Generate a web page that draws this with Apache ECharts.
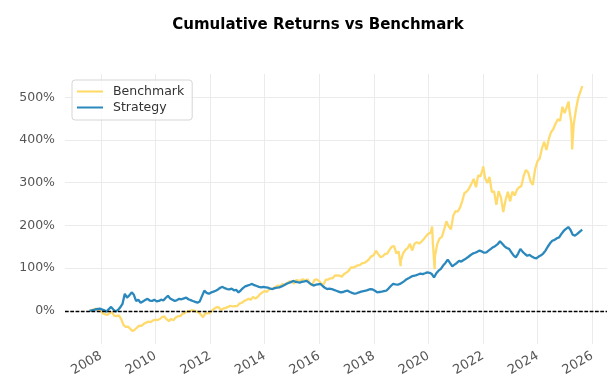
<!DOCTYPE html>
<html><head><meta charset="utf-8">
<script src="https://cdn.jsdelivr.net/npm/echarts@6/dist/echarts.min.js"></script>
<style>html,body{margin:0;padding:0;background:#fff}#c{width:611px;height:389px}</style>
</head><body><div id="c"></div>
<script>
// ---- data (cumulative return, %) ----
const benchDates = [
'2007-08-01','2007-08-28','2007-09-28','2007-10-28','2007-11-28','2007-12-28',
'2008-01-28','2008-02-28','2008-03-28','2008-04-28','2008-05-28','2008-06-28','2008-07-28','2008-08-28','2008-09-28','2008-10-28','2008-11-28','2008-12-28',
'2009-01-28','2009-02-28','2009-03-09','2009-03-28','2009-04-28','2009-05-28','2009-06-28','2009-07-28','2009-08-28','2009-09-28','2009-10-28','2009-11-28','2009-12-28',
'2010-01-28','2010-02-28','2010-03-28','2010-04-28','2010-05-28','2010-06-28','2010-07-28','2010-08-28','2010-09-28','2010-10-28','2010-11-28','2010-12-28',
'2011-01-28','2011-02-28','2011-03-28','2011-04-28','2011-05-28','2011-06-28','2011-07-28','2011-08-28','2011-09-28','2011-10-28','2011-11-28','2011-12-28',
'2012-01-28','2012-02-28','2012-03-28','2012-04-28','2012-05-28','2012-06-28','2012-07-28','2012-08-28','2012-09-28','2012-10-28','2012-11-28','2012-12-28',
'2013-01-28','2013-02-28','2013-03-28','2013-04-28','2013-05-28','2013-06-28','2013-07-28','2013-08-28','2013-09-28','2013-10-28','2013-11-28','2013-12-28',
'2014-01-28','2014-02-28','2014-03-28','2014-04-28','2014-05-28','2014-06-28','2014-07-28','2014-08-28','2014-09-28','2014-10-28','2014-11-28','2014-12-28',
'2015-01-28','2015-02-28','2015-03-28','2015-04-28','2015-05-28','2015-06-28','2015-07-28','2015-08-28','2015-09-28','2015-10-28','2015-11-28','2015-12-28',
'2016-01-28','2016-02-28','2016-03-28','2016-04-28','2016-05-28','2016-06-28','2016-07-28','2016-08-28','2016-09-28','2016-10-28','2016-11-28','2016-12-28',
'2017-01-28','2017-02-28','2017-03-28','2017-04-28','2017-05-28','2017-06-28','2017-07-28','2017-08-28','2017-09-28','2017-10-28','2017-11-28','2017-12-28',
'2018-01-28','2018-02-28','2018-03-28','2018-04-28','2018-05-28','2018-06-28','2018-07-28','2018-08-28','2018-09-28','2018-10-28','2018-11-28','2018-12-24','2018-12-28',
'2019-01-28','2019-02-28','2019-03-28','2019-04-28','2019-05-28','2019-06-28','2019-07-28','2019-08-28','2019-09-28','2019-10-28','2019-11-28','2019-12-28',
'2020-01-28','2020-02-19','2020-02-28','2020-03-23','2020-03-28','2020-04-28','2020-05-28','2020-06-28','2020-07-28','2020-08-28','2020-09-28','2020-10-28','2020-11-28','2020-12-28',
'2021-01-28','2021-02-28','2021-03-28','2021-04-28','2021-05-28','2021-06-28','2021-07-28','2021-08-28','2021-09-28','2021-10-28','2021-11-28','2021-12-28',
'2022-01-03','2022-01-28','2022-02-28','2022-03-28','2022-04-28','2022-05-28','2022-06-28','2022-07-28','2022-08-28','2022-09-28','2022-10-12','2022-10-28','2022-11-28','2022-12-28',
'2023-01-28','2023-02-28','2023-03-28','2023-04-28','2023-05-28','2023-06-28','2023-07-28','2023-08-28','2023-09-28','2023-10-28','2023-11-28','2023-12-28',
'2024-01-28','2024-02-28','2024-03-28','2024-04-28','2024-05-28','2024-06-28','2024-07-28','2024-08-28','2024-09-28','2024-10-28','2024-11-28','2024-12-28',
'2025-01-28','2025-02-19','2025-02-28','2025-03-28','2025-04-08','2025-04-28','2025-05-28','2025-06-28','2025-07-28','2025-08-20'
];
const benchValues = [
0,1,3.6,5.1,1.3,-0.3,
-6.2,-8.4,-9.6,-5.1,-3.5,-11.8,-12.5,-11.0,-19.7,-32.9,-37.6,-37.2,
-42.3,-47.5,-49.0,-44.4,-39.1,-35.1,-35.4,-30.5,-27.8,-25.5,-26.8,-22.2,-21.0,
-21.7,-19.2,-14.6,-13.2,-19.8,-24.3,-18.9,-22.3,-15.9,-12.6,-12.4,-7.0,
-4.8,-1.4,-1.6,1.4,0.3,-1.5,-3.4,-8.6,-14.9,-5.8,-6.0,-5.4,
1.1,5.4,8.4,7.9,1.8,5.4,6.8,9.2,11.8,10.1,10.8,11.2,
16.9,18.5,22.6,25.1,28.0,26.0,32.5,28.9,32.4,38.6,42.8,45.9,
44.1,50.6,51.4,52.7,56.4,59.0,57.2,63.3,60.6,64.6,69.1,68.1,
63.7,72.7,69.6,71.6,73.9,70.1,74.0,63.9,59.4,72.6,73.6,70.0,
62.1,62.3,72.8,73.1,76.1,76.2,82.6,83.0,82.4,79.7,86.3,89.2,
93.7,101.4,101.1,103.3,106.4,107.0,111.5,112.4,115.8,121.1,127.5,129.9,
140.7,132.6,125.9,127.3,133.0,133.7,142.5,150.5,151.3,134.6,139.3,104.6,117.8,
135.2,143.0,146.6,156.8,141.2,156.7,160.9,157.3,161.5,167.4,174.3,180.3,
182.6,197.4,160.9,97.6,128.0,156.7,169.2,173.1,189.4,209.8,197.6,190.7,222.4,233.3,
232.4,242.3,256.9,276.1,279.1,286.8,296.7,309.0,289.4,317.1,314.7,332.7,
338.0,310.8,299.4,313.6,278.3,279.7,248.2,280.3,265.6,231.5,231.4,258.4,278.6,256.3,
278.9,270.1,282.7,289.2,292.0,315.9,330.0,323.8,303.0,295.0,331.5,349.7,
356.5,380.7,395.8,376.7,401.3,418.2,425.2,438.1,448.5,444.7,477.8,462.9,
479.0,490.0,472.6,440.2,378.0,436.2,470.8,499.0,513.6,526.0
];
const stratDates = [
'2007-08-01','2007-10-15','2007-12-15','2008-02-15','2008-03-15','2008-04-15','2008-05-15','2008-06-15','2008-07-15','2008-08-15','2008-09-15','2008-10-15','2008-11-15','2008-12-15',
'2009-01-15','2009-02-15','2009-03-15','2009-04-15','2009-05-15','2009-06-15','2009-07-15','2009-08-15','2009-09-15','2009-10-15','2009-11-15','2009-12-15',
'2010-01-15','2010-02-15','2010-03-15','2010-04-15','2010-05-15','2010-06-15','2010-07-15','2010-08-15','2010-09-15','2010-10-15','2010-11-15','2010-12-15',
'2011-01-15','2011-02-15','2011-03-15','2011-04-15','2011-05-15','2011-06-15','2011-07-15','2011-08-15','2011-09-15','2011-10-15','2011-11-15','2011-12-15',
'2012-01-15','2012-02-15','2012-03-15','2012-04-15','2012-05-15','2012-06-15','2012-07-15','2012-08-15','2012-09-15','2012-10-15','2012-11-15','2012-12-15',
'2013-01-15','2013-02-15','2013-03-15','2013-04-15','2013-05-15','2013-06-15','2013-07-15','2013-08-15','2013-09-15','2013-10-15','2013-11-15','2013-12-15',
'2014-01-15','2014-02-15','2014-03-15','2014-04-15','2014-05-15','2014-06-15','2014-07-15','2014-08-15','2014-09-15','2014-10-15','2014-11-15','2014-12-15',
'2015-01-15','2015-02-15','2015-03-15','2015-04-15','2015-05-15','2015-06-15','2015-07-15','2015-08-15','2015-09-15','2015-10-15','2015-11-15','2015-12-15',
'2016-01-15','2016-02-15','2016-03-15','2016-04-15','2016-05-15','2016-06-15','2016-07-15','2016-08-15','2016-09-15','2016-10-15','2016-11-15','2016-12-15',
'2017-01-15','2017-02-15','2017-03-15','2017-04-15','2017-05-15','2017-06-15','2017-07-15','2017-08-15','2017-09-15','2017-10-15','2017-11-15','2017-12-15',
'2018-01-15','2018-02-15','2018-03-15','2018-04-15','2018-05-15','2018-06-15','2018-07-15','2018-08-15','2018-09-15','2018-10-15','2018-11-15','2018-12-15',
'2019-01-15','2019-02-15','2019-03-15','2019-04-15','2019-05-15','2019-06-15','2019-07-15','2019-08-15','2019-09-15','2019-10-15','2019-11-15','2019-12-15',
'2020-01-15','2020-02-15','2020-03-15','2020-04-15','2020-05-15','2020-06-15','2020-07-15','2020-08-15','2020-09-15','2020-10-15','2020-11-15','2020-12-15',
'2021-01-15','2021-02-15','2021-03-15','2021-04-15','2021-05-15','2021-06-15','2021-07-15','2021-08-15','2021-09-15','2021-10-15','2021-11-15','2021-12-15',
'2022-01-15','2022-02-15','2022-03-15','2022-04-15','2022-05-15','2022-06-15','2022-07-15','2022-08-15','2022-09-15','2022-10-15','2022-11-15','2022-12-15',
'2023-01-15','2023-02-15','2023-03-15','2023-04-15','2023-05-15','2023-06-15','2023-07-15','2023-08-15','2023-09-15','2023-10-15','2023-11-15','2023-12-15',
'2024-01-15','2024-02-15','2024-03-15','2024-04-15','2024-05-15','2024-06-15','2024-07-15','2024-08-15','2024-09-15','2024-10-15','2024-11-15','2024-12-15',
'2025-01-15','2025-02-15','2025-03-15','2025-04-15','2025-05-15','2025-06-15','2025-07-15','2025-08-20'
];
const stratValues = [
0,3,5,1,-2,4,9,3,-2,2,8,16,40,31,
36,43,38,23,26,19,22,25,28,24,23,26,
22,23,26,24,30,35,29,26,23,25,28,27,
29,31,27,25,23,21,19,22,35,47,42,40,
43,45,47,50,54,56,53,51,50,52,48,49,
43,48,53,57,59,61,63,60,58,56,55,56,
55,54,52,51,53,54,55,57,60,63,65,67,
70,68,67,66,68,69,70,66,62,59,61,62,
63,58,54,51,52,51,49,47,45,43,44,46,
47,44,42,40,41,43,45,46,47,49,51,50,
47,43,44,45,46,47,52,58,63,62,61,63,
66,70,74,77,80,82,83,85,87,86,88,90,
89,86,78,88,94,98,106,112,120,112,104,108,
112,117,115,119,122,126,130,134,136,138,141,139,
136,137,141,145,149,152,156,163,157,151,147,145,
137,129,125,134,145,138,133,129,131,127,124,123,
127,130,134,141,150,158,164,166,170,172,180,187,
192,196,190,178,176,180,185,190
];
const xTickYears = [2008,2010,2012,2014,2016,2018,2020,2022,2024,2026];
const yTickValues = [0,100,200,300,400,500];

// date string -> decimal year (for a numeric x axis)
function toYear(s) {
  const [y, m, d] = s.split('-').map(Number);
  const t0 = Date.UTC(y, 0, 1), t1 = Date.UTC(y + 1, 0, 1);
  return y + (Date.UTC(y, m - 1, d) - t0) / (t1 - t0);
}
const zip = (d, v) => d.map((x, i) => [toYear(x), v[i]]);
const FONT = 'DejaVu Sans';
const chart = echarts.init(document.getElementById('c'), null, {renderer: 'canvas'});
chart.setOption({
  animation: false,
  backgroundColor: '#ffffff',
  title: {
    text: 'Cumulative Returns vs Benchmark',
    left: 313, top: 13, textAlign: 'center',
    textStyle: {fontFamily: FONT, fontWeight: 'bold', fontSize: 15, color: '#000'}
  },
  legend: {
    orient: 'vertical', left: 72, top: 80,
    data: ['Benchmark', 'Strategy'],
    icon: 'rect', itemWidth: 26, itemHeight: 2, itemGap: 3,
    padding: [5, 8, 6, 5],
    borderColor: '#d6d6d6', borderWidth: 1, borderRadius: 3,
    backgroundColor: 'rgba(255,255,255,0.8)',
    textStyle: {fontFamily: FONT, fontSize: 12.5, color: '#333', padding: [0, 0, 0, 5]}
  },
  grid: {left: 65, right: 4, top: 74, bottom: 45, outerBoundsMode: 'none'},
  xAxis: {
    type: 'value', min: 2006.681, max: 2026.541,
    axisLine: {show: false},
    axisTick: {show: false, customValues: xTickYears},
    axisLabel: {
      customValues: xTickYears, rotate: 30, margin: 11,
      formatter: v => String(v),
      fontFamily: FONT, fontSize: 13, color: '#555'
    },
    splitLine: {show: true, lineStyle: {color: '#ebebeb', width: 1}}
  },
  yAxis: {
    type: 'value', min: -77.8, max: 554.6,
    axisLine: {show: false},
    axisTick: {show: false, customValues: yTickValues},
    axisLabel: {
      customValues: yTickValues, margin: 10,
      formatter: v => v + '%',
      fontFamily: FONT, fontSize: 12.5, color: '#555'
    },
    splitLine: {show: true, lineStyle: {color: '#ebebeb', width: 1}}
  },
  series: [
    {name: 'Benchmark', type: 'line', data: zip(benchDates, benchValues), showSymbol: false,
     color: '#ffd966', lineStyle: {width: 2.3, color: '#ffd966', opacity: 0.95}, z: 2},
    {name: 'Strategy', type: 'line', data: zip(stratDates, stratValues), showSymbol: false,
     color: '#2b88bd', lineStyle: {width: 2.3, color: '#2b88bd'}, z: 3},
    {name: 'zero', type: 'line', data: [], z: 5,
     markLine: {silent: true, symbol: 'none', label: {show: false},
       lineStyle: {color: '#000', type: [3.7, 1.6], width: 1.3}, data: [{yAxis: 0}]}}
  ]
});
</script></body></html>
